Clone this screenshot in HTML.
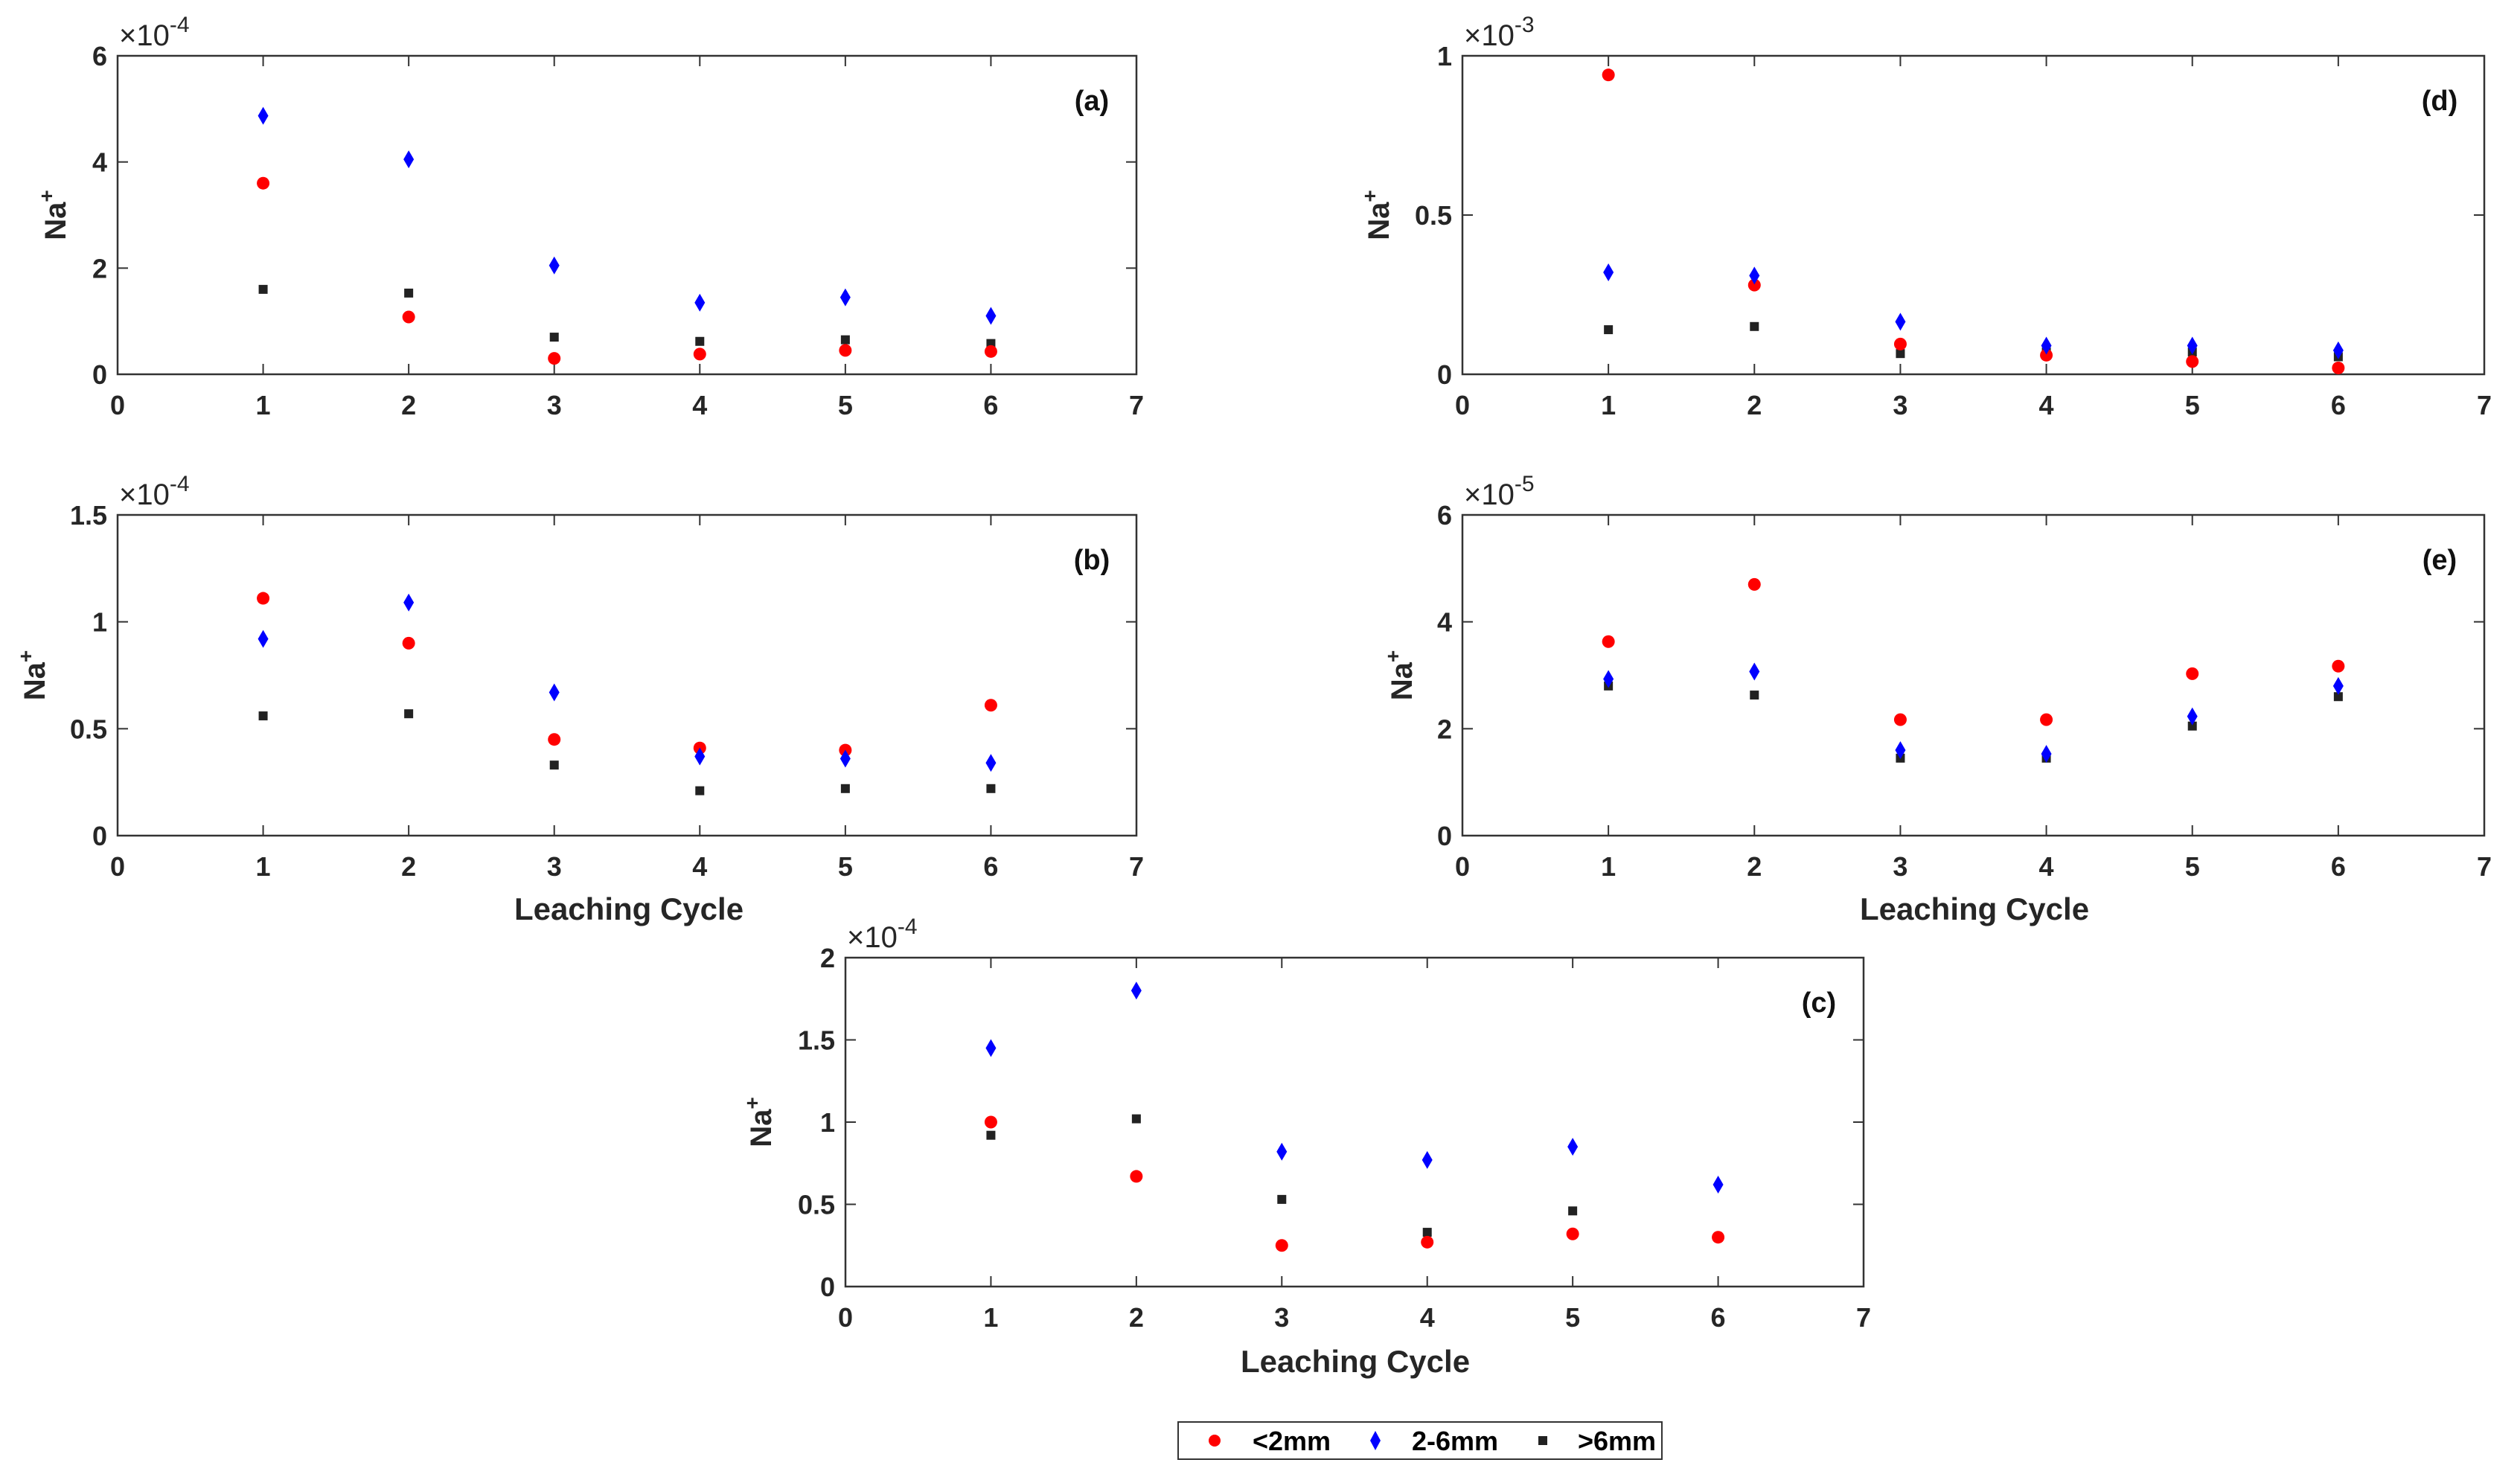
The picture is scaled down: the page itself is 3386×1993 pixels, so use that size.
<!DOCTYPE html>
<html><head><meta charset="utf-8">
<style>
html,body{margin:0;padding:0;background:#fff;}
svg{display:block;font-family:"Liberation Sans",Arial,sans-serif;font-weight:bold;}
</style></head>
<body>
<svg id="fig" width="3386" height="1993" viewBox="0 0 3386 1993" xmlns="http://www.w3.org/2000/svg">
<g id="legend">
  <rect x="1583" y="1911" width="650" height="50" fill="#fff" stroke="#333" stroke-width="2"/>
  <circle cx="1632" cy="1936" r="8" fill="#f00"/>
  <text x="1683" y="1949" font-size="36">&lt;2mm</text>
  <path d="M1848,1923 L1855,1936 L1848,1949 L1841,1936 Z" fill="#00f"/>
  <text x="1897" y="1949" font-size="36">2-6mm</text>
  <rect x="2067" y="1930" width="12" height="12" fill="#222"/>
  <text x="2120" y="1949" font-size="36">&gt;6mm</text>
</g>
</svg>
<script>
const cycles = [1,2,3,4,5,6];
const xTicks = [0,1,2,3,4,5,6,7];
// panel (a) x1e-4
const aRed = [3.6,1.08,0.3,0.38,0.45,0.43];
const aBlue = [4.87,4.05,2.05,1.35,1.45,1.1];
const aBlack = [1.6,1.53,0.7,0.62,0.65,0.58];
const aTicks = ["0","2","4","6"];
// panel (b) x1e-4
const bRed = [1.11,0.90,0.45,0.41,0.40,0.61];
const bBlue = [0.92,1.09,0.67,0.37,0.36,0.34];
const bBlack = [0.56,0.57,0.33,0.21,0.22,0.22];
const bTicks = ["0","0.5","1","1.5"];
// panel (c) x1e-4
const cRed = [1.0,0.67,0.25,0.27,0.32,0.30];
const cBlue = [1.45,1.8,0.82,0.77,0.85,0.62];
const cBlack = [0.92,1.02,0.53,0.33,0.46,0.30];
const cTicks = ["0","0.5","1","1.5","2"];
// panel (d) x1e-3
const dRed = [0.94,0.28,0.095,0.06,0.04,0.02];
const dBlue = [0.32,0.31,0.165,0.09,0.09,0.075];
const dBlack = [0.14,0.15,0.065,0.07,0.07,0.055];
const dTicks = ["0","0.5","1"];
// panel (e) x1e-5
const eRed = [3.63,4.7,2.17,2.17,3.03,3.17];
const eBlue = [2.93,3.07,1.6,1.53,2.23,2.8];
const eBlack = [2.8,2.63,1.45,1.45,2.05,2.6];
const eTicks = ["0","2","4","6"];

const NS = "http://www.w3.org/2000/svg";
const svg = document.getElementById('fig');
function mk(tag, attrs, parent){
  const e = document.createElementNS(NS, tag);
  for (const k in attrs) e.setAttribute(k, attrs[k]);
  parent.appendChild(e);
  return e;
}
const panels = [
  {id:'a', L:158, R:1527, T:75, B:503, exp:'-4', ticks:aTicks, red:aRed, blue:aBlue, black:aBlack, ylx:88, xl:null},
  {id:'b', L:158, R:1527, T:692, B:1123, exp:'-4', ticks:bTicks, red:bRed, blue:bBlue, black:bBlack, ylx:60, xl:[845,1236]},
  {id:'c', L:1136, R:2504, T:1287, B:1729, exp:'-4', ticks:cTicks, red:cRed, blue:cBlue, black:cBlack, ylx:1036, xl:[1821,1844]},
  {id:'d', L:1965, R:3338, T:75, B:503, exp:'-3', ticks:dTicks, red:dRed, blue:dBlue, black:dBlack, ylx:1866, xl:null},
  {id:'e', L:1965, R:3338, T:692, B:1123, exp:'-5', ticks:eTicks, red:eRed, blue:eBlue, black:eBlack, ylx:1897, xl:[2653,1236]}
];
panels.forEach(p => {
  const g = mk('g', {}, svg);
  
  
  const ymax = parseFloat(p.ticks[p.ticks.length-1]);
  const xs = v => p.L + (v/7)*(p.R-p.L);
  const ys = v => p.B - (v/ymax)*(p.B-p.T);
  const box = mk('rect', {x:p.L, y:p.T, width:p.R-p.L, height:p.B-p.T, fill:'none', stroke:'#333', 'stroke-width':2.5}, g);
  
  
  xTicks.forEach(t => {
    const x = xs(t);
    mk('line', {x1:x, y1:p.B, x2:x, y2:p.B-14, stroke:'#333', 'stroke-width':2}, g);
    mk('line', {x1:x, y1:p.T, x2:x, y2:p.T+14, stroke:'#333', 'stroke-width':2}, g);
    const tx = mk('text', {x:x, y:p.B+54, 'font-size':36, 'text-anchor':'middle', fill:'#262626'}, g);
    tx.textContent = t;
    
    
  });
  p.ticks.forEach(t => {
    const y = ys(parseFloat(t));
    mk('line', {x1:p.L, y1:y, x2:p.L+14, y2:y, stroke:'#333', 'stroke-width':2}, g);
    mk('line', {x1:p.R, y1:y, x2:p.R-14, y2:y, stroke:'#333', 'stroke-width':2}, g);
    const tx = mk('text', {x:p.L-14, y:y+13, 'font-size':36, 'text-anchor':'end', fill:'#262626'}, g);
    tx.textContent = t;
    
    
  });
  const ex = mk('text', {x:p.L+2, y:p.T-14, 'font-size':40, 'font-weight':'normal', fill:'#262626'}, g);
  ex.innerHTML = '×10<tspan dy="-18" font-size="30">' + p.exp + '</tspan>';
  
  
  const lab = mk('text', {x:p.R-60, y:p.T+73, 'font-size':38, 'text-anchor':'middle', fill:'#111'}, g);
  lab.textContent = '(' + p.id + ')';
  
  
  const yc = (p.T+p.B)/2;
  const yl = mk('text', {x:p.ylx, y:yc, 'font-size':40, 'text-anchor':'middle', fill:'#262626', transform:'rotate(-90 '+p.ylx+' '+yc+')'}, g);
  yl.innerHTML = 'Na<tspan dy="-16" font-size="28">+</tspan>';
  
  
  if (p.xl) {
    const xt = mk('text', {x:p.xl[0], y:p.xl[1], 'font-size':42, 'text-anchor':'middle', fill:'#262626'}, g);
    xt.textContent = 'Leaching Cycle';
    
    
  }
  cycles.forEach((c,i) => {
    const x = xs(c);
    let y = ys(p.black[i]);
    const sq = mk('rect', {x:x-6, y:y-6, width:12, height:12, fill:'#222'}, g);
    
    
    y = ys(p.red[i]);
    const ci = mk('circle', {cx:x, cy:y, r:8.5, fill:'#f00'}, g);
    
    
    y = ys(p.blue[i]);
    const di = mk('path', {d:'M'+x+','+(y-12)+' L'+(x+7)+','+y+' L'+x+','+(y+12)+' L'+(x-7)+','+y+' Z', fill:'#00f'}, g);
    
    
  });
});
</script>
</body></html>
